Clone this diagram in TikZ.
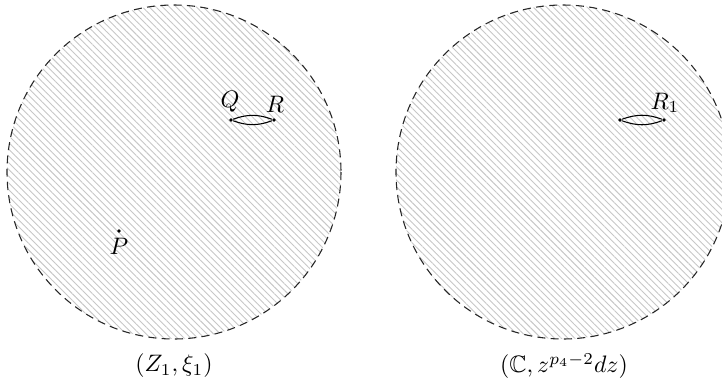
\documentclass[tikz,border=0pt]{standalone}
\usepackage{amssymb}
\usetikzlibrary{patterns.meta}
\tikzset{
  disc/.style={draw=black!85, line width=0.45pt, dash pattern=on 3.4pt off 2.2pt,
    pattern={Lines[angle=-45,distance=2.0pt,line width=0.38pt]}, pattern color=black!22},
  dot/.style={circle, fill=black, inner sep=0pt, minimum size=1.5pt},
  lens/.style={line width=0.45pt},
  lab/.style={inner sep=0pt}
}
\begin{document}
\begin{tikzpicture}[x=0.42pt,y=-0.42pt]
\useasboundingbox (0,0) rectangle (722,383);
\clip (0,0) rectangle (722,383);
\path[disc] (174,172) circle[radius=167];
\path[disc] (563,172) circle[radius=167];
% left disc points
\node[dot] (Q) at (231,120) {};
\node[dot] (R) at (274,120) {};
\node[dot] (P) at (119,231) {};
\node[lab] (Ql) at (230,102) {$Q$};
\node[lab] (Rl) at (275,104) {$R$};
\node[lab] (Pl) at (119,246) {$P$};
\draw[lens] (Q) to[bend left=20] (R);
\draw[lens] (Q) to[bend right=20] (R);
% right disc points
\node[dot] (Q1) at (620,120) {};
\node[dot] (R1) at (664,120) {};
\node[lab] (R1l) at (665,103) {$R_1$};
\draw[lens] (Q1) to[bend left=20] (R1);
\draw[lens] (Q1) to[bend right=20] (R1);
% captions
\node[lab] (c1) at (174,366) {$(Z_1,\xi_1)$};
\node[lab] (c2) at (564,366) {$(\mathbb{C},z^{p_4-2}dz)$};
\end{tikzpicture}
\end{document}
